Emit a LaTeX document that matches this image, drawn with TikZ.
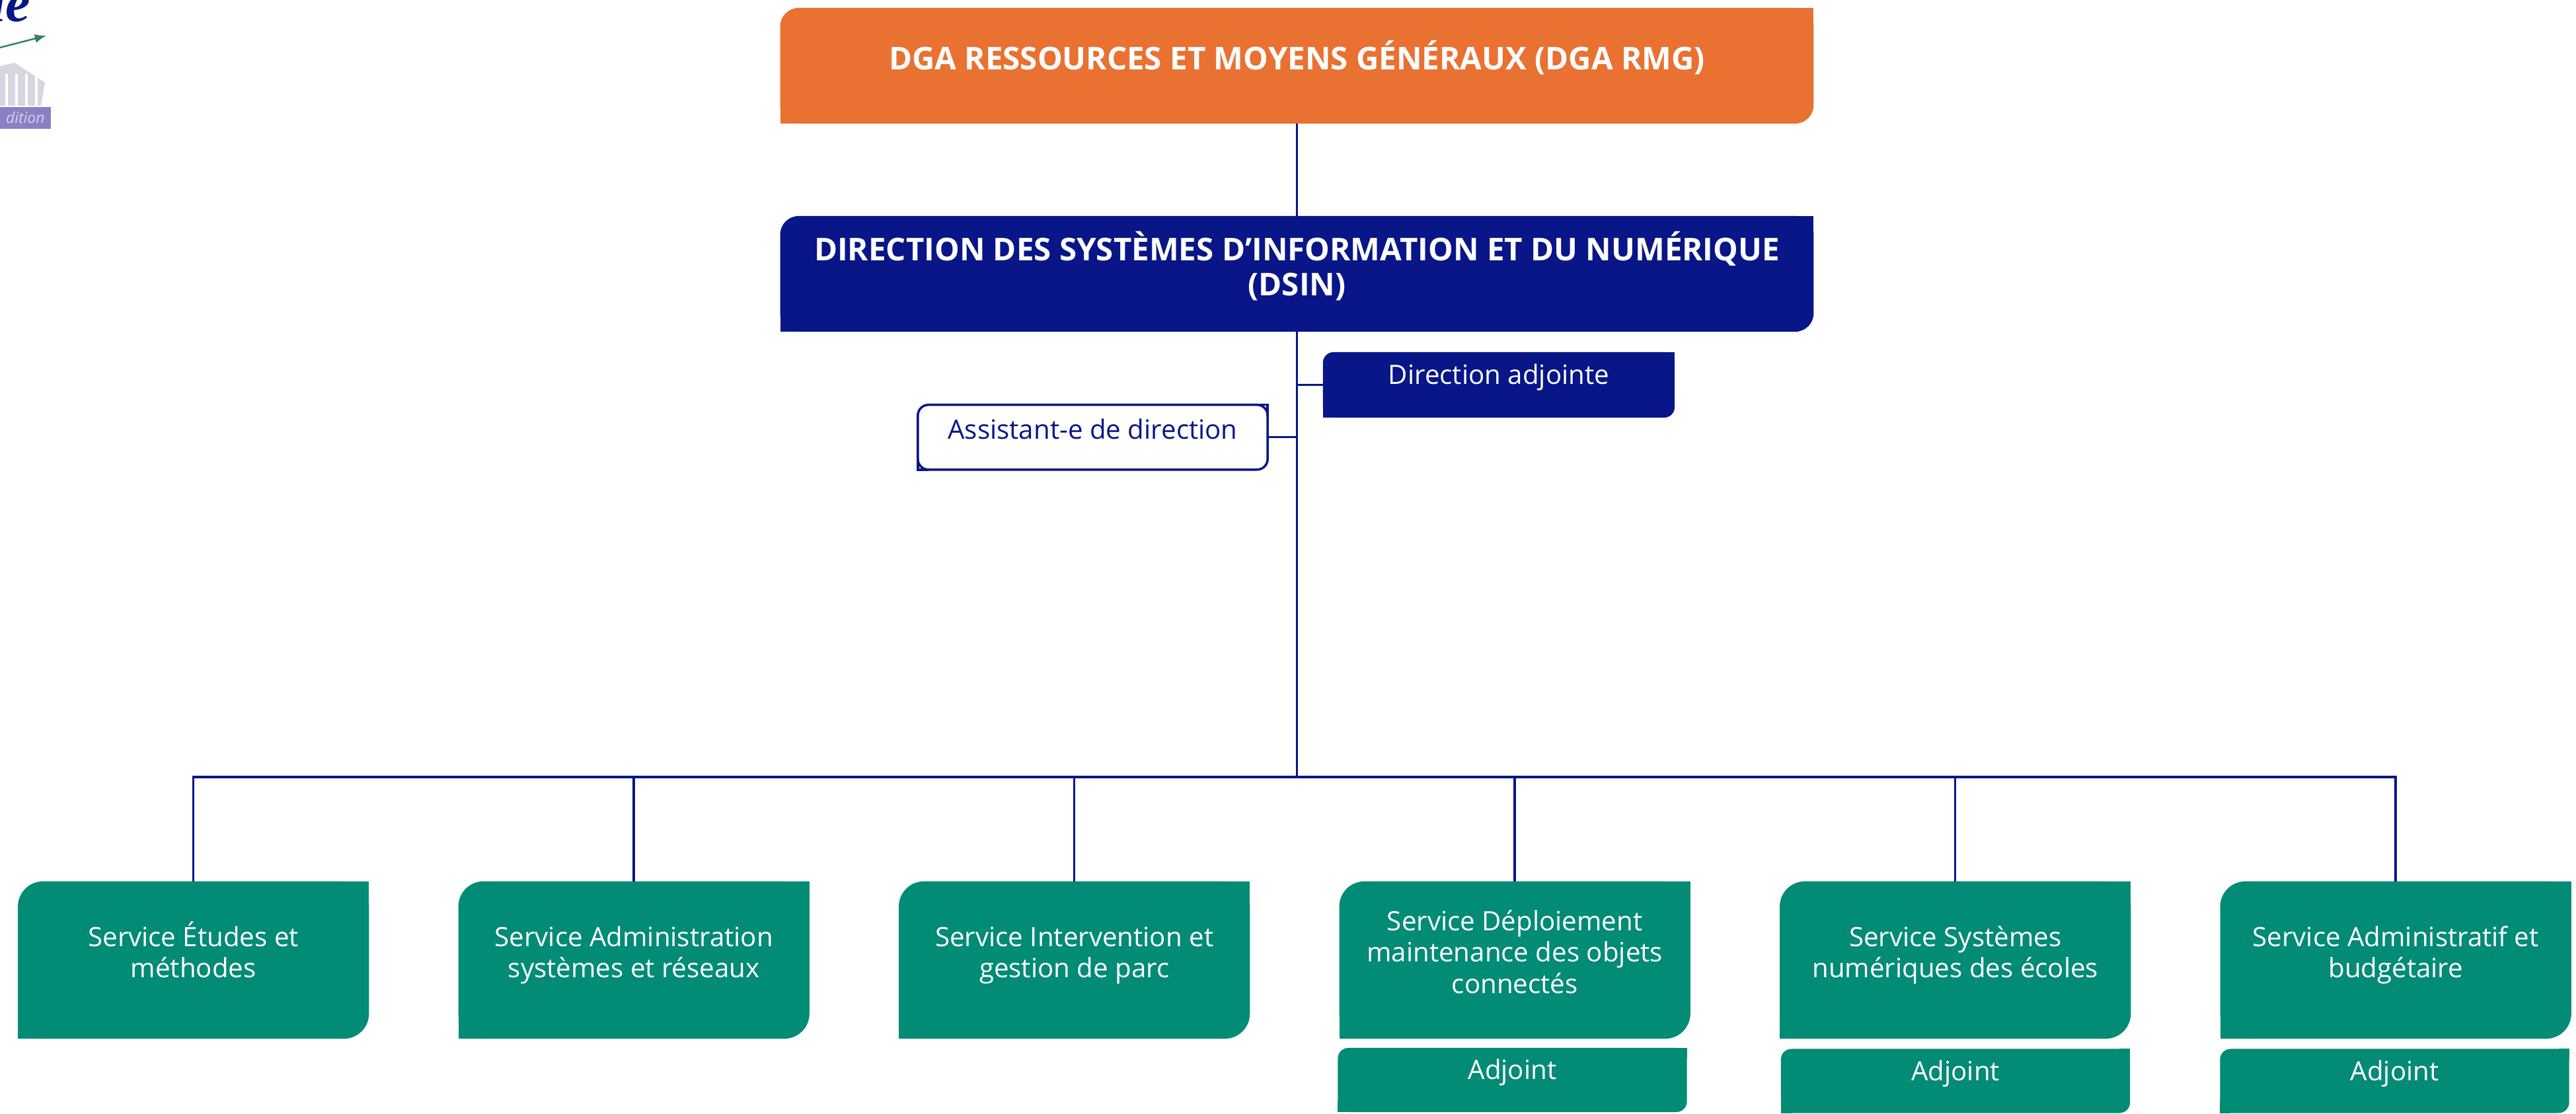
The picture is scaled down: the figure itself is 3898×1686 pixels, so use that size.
\documentclass[tikz,border=0pt]{standalone}
\usepackage{fontspec}
\setmainfont{Open Sans}
\newfontfamily\logofont{Liberation Serif}
\definecolor{MyOrange}{RGB}{233,113,50}
\definecolor{MyNavy}{RGB}{8,22,136}
\definecolor{MyTeal}{RGB}{2,139,117}
\definecolor{MyPurple}{RGB}{140,128,196}
\definecolor{MyLilac}{RGB}{214,210,240}
\definecolor{MyGreen}{RGB}{50,130,90}
\definecolor{MyGrey}{RGB}{214,214,226}
\tikzset{
  orgbox/.style={rectangle,inner sep=0pt,outer sep=0pt,align=center,text=white},
  headbox/.style={orgbox,minimum width=15.63cm,minimum height=1.75cm,rounded corners=.28cm,
    font=\fontsize{13.5}{15}\selectfont\bfseries,text depth=9pt},
  servicebox/.style={orgbox,fill=MyTeal,minimum width=5.31cm,minimum height=2.38cm,rounded corners=.38cm,
    font=\fontsize{11.45}{13.4}\selectfont,text depth=9pt},
  adjbox/.style={orgbox,minimum width=5.28cm,minimum height=.97cm,rounded corners=.16cm,
    font=\fontsize{11.45}{13.4}\selectfont,text depth=9pt},
  link/.style={MyNavy,line width=1pt}
}

\begin{document}
\begin{tikzpicture}[x=.01cm,y=-.01cm]
  \useasboundingbox (0,0) rectangle (3898,1686);
  % logo corner
  \fill[MyGrey] (0,100) -- (22,95) -- (68,125) -- (62,160) -- (0,160) -- cycle;
  \foreach \x in {10,25,40,55} \draw[white,line width=1pt] (\x,112) -- (\x,160);
  \node[MyNavy,font=\fontsize{24}{24}\logofont\itshape\bfseries,anchor=base east,inner sep=0pt] (logoname) at (47,33) {ne};
  \coordinate (arrowtail) at (0,72);
  \coordinate (arrowhead) at (70,54);
  \draw[MyGreen,line width=.7pt,-latex] (arrowtail) -- (arrowhead);
  \node[fill=MyPurple,text=MyLilac,anchor=north east,minimum width=.78cm,minimum height=.33cm,inner sep=0pt,
    font=\fontsize{6.5}{6.5}\selectfont\itshape] (logobar) at (78,161) {dition};

  % boxes
  \node[headbox,fill=MyOrange] (dga) at (1962.5,99.5) {DGA RESSOURCES ET MOYENS GÉNÉRAUX (DGA RMG)};
  \node[headbox,fill=MyNavy] (dsin) at (1962.5,414.5) {DIRECTION DES SYSTÈMES D’INFORMATION ET DU NUMÉRIQUE\\(DSIN)};
  \node[orgbox,fill=MyNavy,minimum width=5.32cm,minimum height=.99cm,rounded corners=.16cm,
    font=\fontsize{11.45}{13.4}\selectfont,text depth=9pt] (adjointe) at (2268,582.5) {Direction adjointe};
  \node[orgbox,draw=MyNavy,line width=1pt,text=MyNavy,minimum width=5.29cm,minimum height=.98cm,rounded corners=.16cm,
    font=\fontsize{11.45}{13.4}\selectfont,text depth=7pt] (assistant) at (1653.5,661.75) {Assistant-e de direction};
  \foreach \n/\x/\t in {etudes/292.7/{Service Études et\\méthodes},
                        admin/959.2/{Service Administration\\systèmes et réseaux},
                        parc/1625.7/{Service Intervention et\\gestion de parc},
                        objets/2292.2/{Service Déploiement\\maintenance des objets\\connectés},
                        ecoles/2958.7/{Service Systèmes\\numériques des écoles},
                        budget/3625.2/{Service Administratif et\\budgétaire}}
    \node[servicebox] (\n) at (\x,1453) {\vphantom{É}\t};
  \node[adjbox,fill=MyTeal] (adjobjets) at (2288.5,1634.5) {Adjoint};
  \node[adjbox,fill=MyTeal] (adjecoles) at (2959,1636) {Adjoint};
  \node[adjbox,fill=MyTeal] (adjbudget) at (3623.5,1636) {Adjoint};

  % square corners
  \foreach \n/\c/\r in {dga/MyOrange/28,dsin/MyNavy/28,adjointe/MyNavy/16,
                        etudes/MyTeal/38,admin/MyTeal/38,parc/MyTeal/38,objets/MyTeal/38,ecoles/MyTeal/38,budget/MyTeal/38,
                        adjobjets/MyTeal/16,adjecoles/MyTeal/16,adjbudget/MyTeal/16}{
    \fill[\c] (\n.north east) rectangle +(-\r,\r);
    \fill[\c] (\n.south west) rectangle +(\r,-\r);
  }
  \draw[link] (assistant.north east) +(-16,0) -| +(0,16);
  \draw[link] (assistant.south west) +(16,0) -| +(0,-16);

  % connectors
  \coordinate (bus) at (1962.5,1176);
  \draw[link] (dga) -- (dsin);
  \draw[link] (dsin) -- (bus);
  \draw[link] (adjointe.west) -- (adjointe.west -| bus);
  \draw[link] (assistant.east) -- (assistant.east -| bus);
  \foreach \n in {etudes,admin,parc,objets,ecoles,budget}
    \draw[link] (bus) -| (\n.north);
\end{tikzpicture}
\end{document}
